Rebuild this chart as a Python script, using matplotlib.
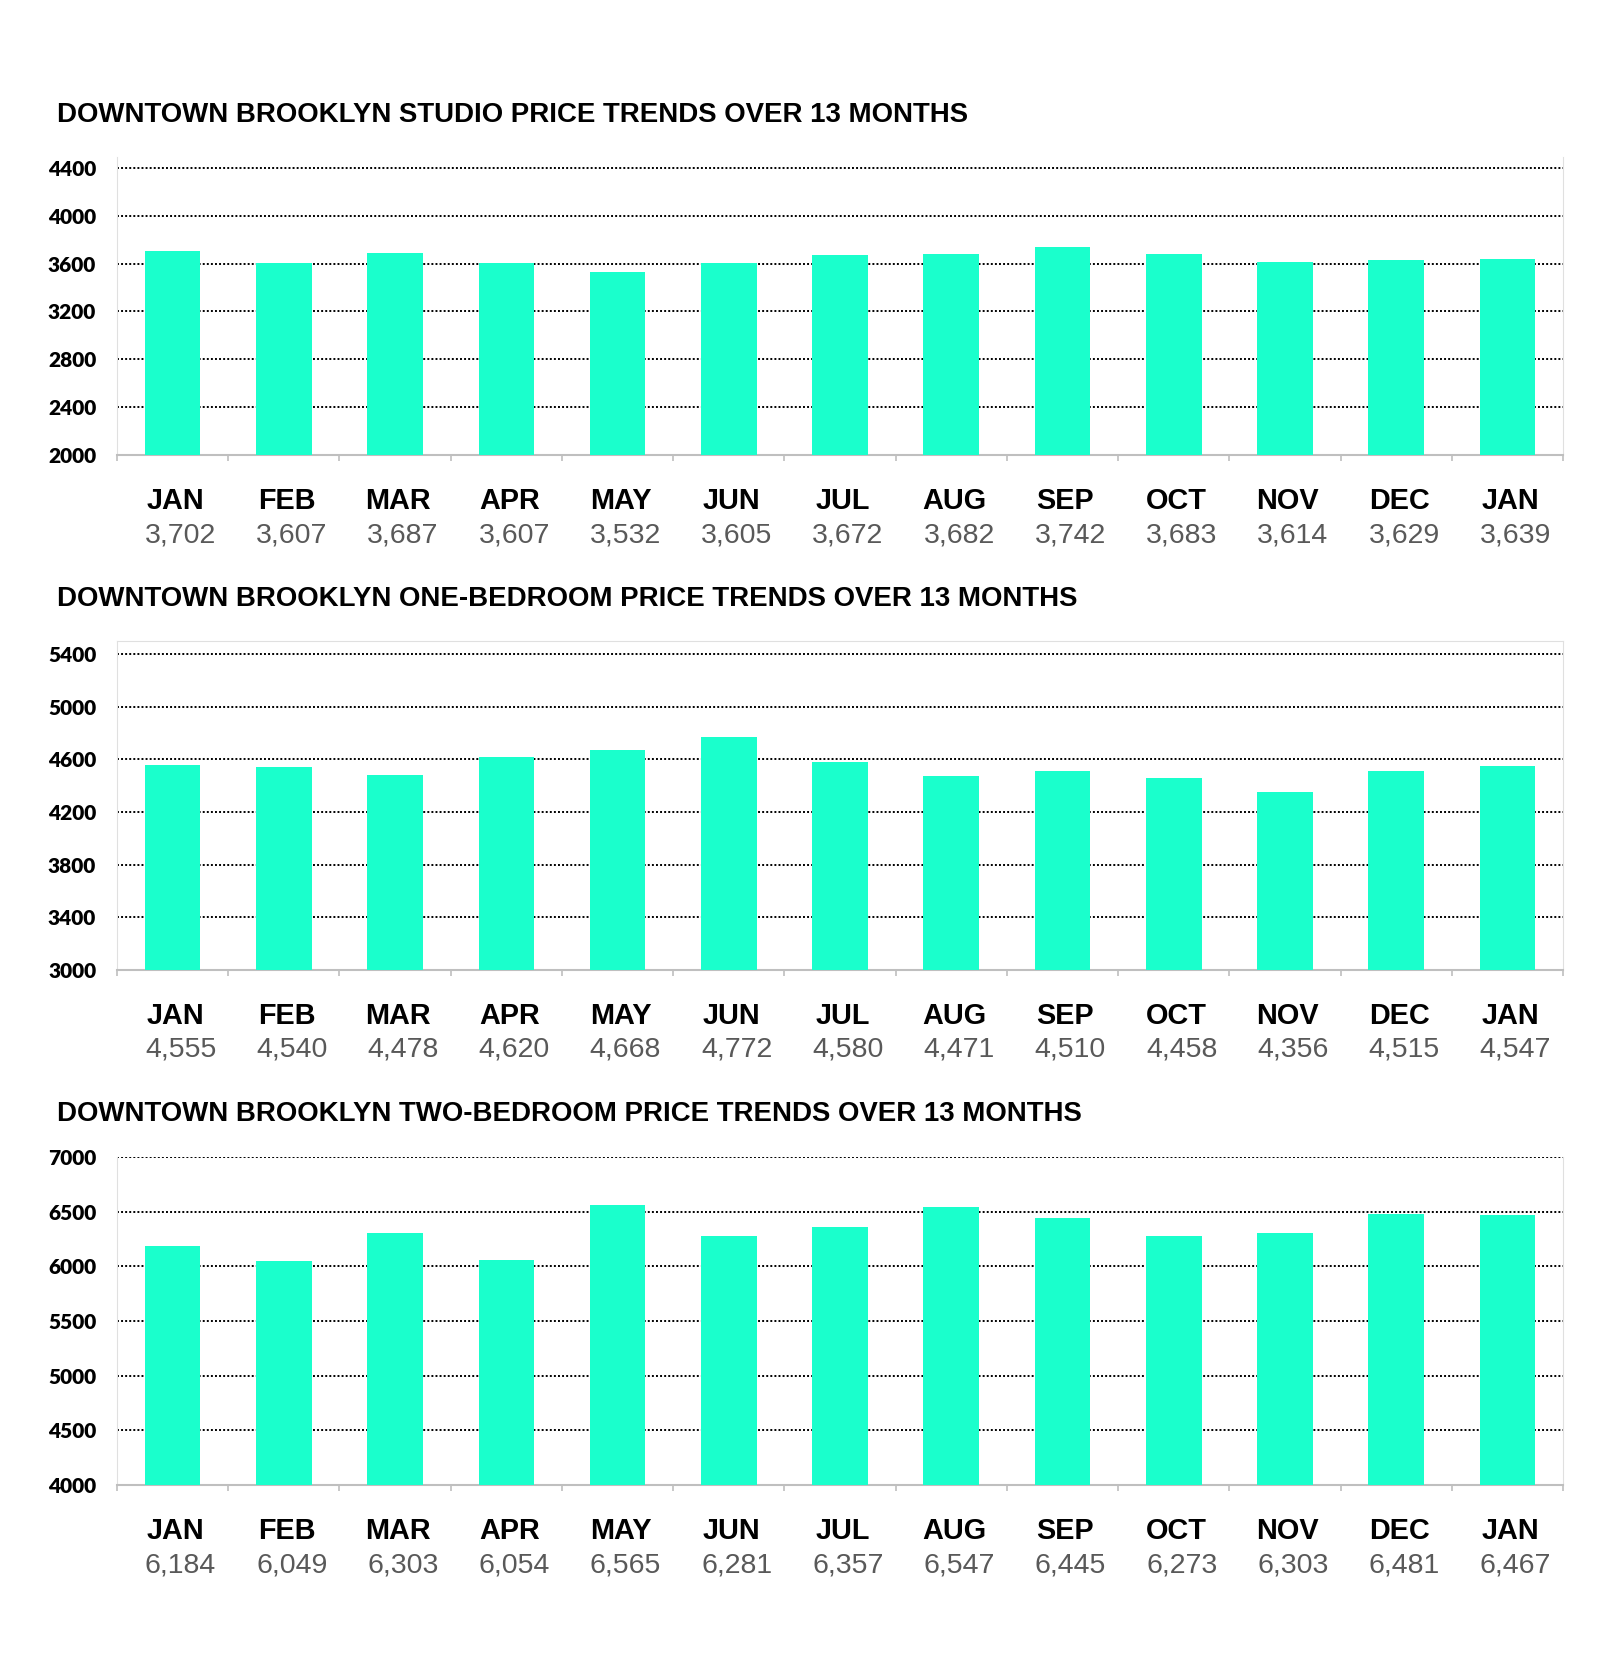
import matplotlib.pyplot as plt
import numpy as np

months = ["JAN", "FEB", "MAR", "APR", "MAY", "JUN", "JUL", "AUG", "SEP", "OCT", "NOV", "DEC", "JAN"]

studio = [3702, 3607, 3687, 3607, 3532, 3605, 3672, 3682, 3742, 3683, 3614, 3629, 3639]
one_bed = [4555, 4540, 4478, 4620, 4668, 4772, 4580, 4471, 4510, 4458, 4356, 4515, 4547]
two_bed = [6184, 6049, 6303, 6054, 6565, 6281, 6357, 6547, 6445, 6273, 6303, 6481, 6467]

titles = [
    "DOWNTOWN BROOKLYN STUDIO PRICE TRENDS OVER 13 MONTHS",
    "DOWNTOWN BROOKLYN ONE-BEDROOM PRICE TRENDS OVER 13 MONTHS",
    "DOWNTOWN BROOKLYN TWO-BEDROOM PRICE TRENDS OVER 13 MONTHS",
]
yticks = [
    list(range(2000, 4401, 400)),
    list(range(3000, 5401, 400)),
    list(range(4000, 7001, 500)),
]
ylims = [(2000, 4490), (3000, 5500), (4000, 7000)]

W, H = 1600, 1679
fig = plt.figure(figsize=(W / 100, H / 100), dpi=100)

# pixel layout of each panel: (axes top, axes bottom, title y)
panels = [(157, 455, 115), (641, 970, 599), (1157, 1485, 1114)]
left_px, right_px = 117, 1563
bar_color = "#1affcc"

for i, (vals, (top, bot, ty)) in enumerate(zip([studio, one_bed, two_bed], panels)):
    ax = fig.add_axes([left_px / W, 1 - bot / H, (right_px - left_px) / W, (bot - top) / H])
    x = np.arange(len(months))
    ax.bar(x, vals, width=0.5, color=bar_color, zorder=3)
    ax.set_xlim(-0.5, len(months) - 0.5)
    ax.set_ylim(*ylims[i])
    ax.set_yticks(yticks[i])
    for t in yticks[i][1:]:
        ax.axhline(t, color="black", lw=1.4, ls=(0, (1, 1.1)), zorder=1)
    ax.tick_params(axis="y", length=0, pad=15)
    for lab in ax.get_yticklabels():
        lab.set_fontfamily("Lato")
        lab.set_fontweight("heavy")
        lab.set_fontsize(15)
    ax.set_xticks(np.arange(-0.5, len(months), 1.0))
    ax.set_xticklabels([])
    ax.tick_params(axis="x", length=4, width=1.2, color="#bfbfbf", direction="out")
    ax.spines["bottom"].set_color("#bfbfbf")
    ax.spines["bottom"].set_linewidth(1.5)
    ax.spines["left"].set_color("#e0e0e0")
    ax.spines["right"].set_color("#e0e0e0")
    ax.spines["top"].set_color("#e0e0e0")
    ax.spines["top"].set_visible(i == 1)
    trans = ax.get_xaxis_transform()
    for j, (m, v) in enumerate(zip(months, vals)):
        ax.annotate(m, (j, 0), xycoords=trans, xytext=(3, -46), textcoords="offset pixels",
                    ha="center", va="center", fontsize=20.8, fontweight="bold",
                    family="Liberation Sans", color="black", annotation_clip=False)
        ax.annotate(f"{v:,}", (j, 0), xycoords=trans, xytext=(8, -80), textcoords="offset pixels",
                    ha="center", va="center", fontsize=20.5, family="Liberation Sans",
                    color="#595959", annotation_clip=False)
    fig.text(57 / W, 1 - ty / H, titles[i], ha="left", va="center", fontsize=19.9,
             fontweight="bold", family="Liberation Sans", color="black")

fig.savefig("out.png", dpi=100, facecolor="white")
